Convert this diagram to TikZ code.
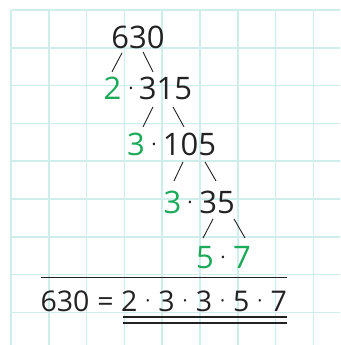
\documentclass[tikz,border=0pt]{standalone}
\usepackage{fontspec}
\setmainfont{Open Sans}
\usetikzlibrary{calc}
\definecolor{gridc}{HTML}{CFEDEB}
\definecolor{grn}{HTML}{1BA95A}
\definecolor{ink}{HTML}{222222}
\newcommand\sdot{{\fontsize{20}{20}\selectfont\raisebox{3.5pt}{·}}}
\newcommand\bdot{{\fontsize{19}{19}\selectfont\raisebox{3.2pt}{·}}}
\newcommand\md{\hspace{8pt}\bdot\hspace{8pt}}
\begin{document}
\begin{tikzpicture}[x=1pt,y=-1pt,
  num/.style={font=\fontsize{31}{31}\selectfont, text=ink, inner sep=0pt, anchor=base},
  fac/.style={num, text=grn},
  dotc/.style={num},
  eqtext/.style={num, font=\fontsize{28.5}{28.5}\selectfont},
  edge/.style={draw=ink, line width=0.9pt},
  rule/.style={draw=ink, line width=1.1pt},
  gridline/.style={draw=gridc, line width=1.5pt}]
\useasboundingbox (0,0) rectangle (340,345);
\fill[white] (0,0) rectangle (340,345);
\foreach \i in {0,...,8} {
  \draw[gridline] ({11+37.8*\i},10) -- ({11+37.8*\i},345);
  \draw[gridline] (11,{10+37.8*\i}) -- (340,{10+37.8*\i});
}
% row 1
\node[num] (n630) at (138,48.5) {630};
% row 2
\node[fac] (f2) at (112.5,99) {2};
\node[dotc] (d1) at (131,99) {\sdot};
\node[num] (n315) at (165.5,99) {315};
% row 3
\node[fac] (f3a) at (136,155) {3};
\node[dotc] (d2) at (154,155) {\sdot};
\node[num] (n105) at (189.5,155) {105};
% row 4
\node[fac] (f3b) at (172.5,213) {3};
\node[dotc] (d3) at (190,213) {\sdot};
\node[num] (n35) at (217,213) {35};
% row 5
\node[fac] (f5) at (205,268) {5};
\node[dotc] (d4) at (223,268) {\sdot};
\node[fac] (f7) at (242,268) {7};
% connectors
\draw[edge] ($(n630)+(-16,15.5)$) -- ($(f2)+(-0.5,-16)$);
\draw[edge] ($(n630)+(5,14.5)$) -- ($(n315)+(-12.5,-16)$);
\draw[edge] ($(n315)+(-12.5,19)$) -- ($(f3a)+(7,-17)$);
\draw[edge] ($(n315)+(7.5,19)$) -- ($(n105)+(-5.5,-17)$);
\draw[edge] ($(n105)+(-6.5,18)$) -- ($(f3b)+(1.5,-21)$);
\draw[edge] ($(n105)+(15.5,18)$) -- ($(n35)+(-1,-21)$);
\draw[edge] ($(n35)+(-4,17)$) -- ($(f5)+(-2,-19)$);
\draw[edge] ($(n35)+(17,17)$) -- ($(f7)+(3,-19)$);
% bottom equation
\draw[rule] (41,277.5) -- (287,277.5);
\node[eqtext] (eq630) at (65,311) {630};
\node[eqtext] (eqs) at (105.5,311) {=};
\node[eqtext, anchor=base east] (eqR) at (287,311) {2\md 3\md 3\md 5\md 7};
\draw[rule] (123,317) -- (287,317);
\draw[rule] (123,323) -- (287,323);
\end{tikzpicture}
\end{document}
